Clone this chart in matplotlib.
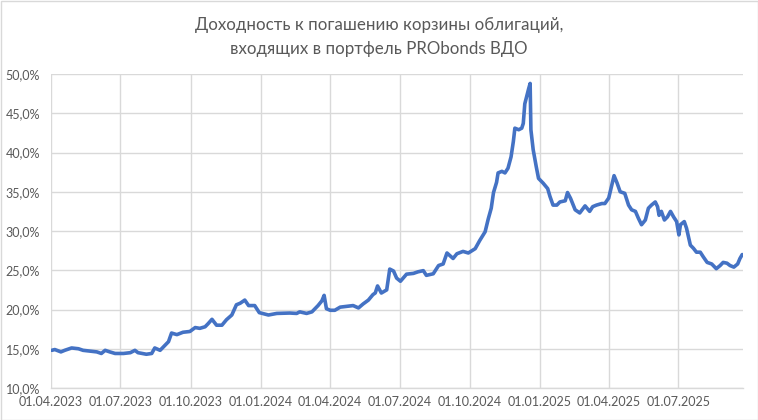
import matplotlib
matplotlib.use("Agg")
import matplotlib.pyplot as plt
import matplotlib.dates as mdates
from matplotlib.ticker import FuncFormatter, MultipleLocator
from matplotlib.patches import Rectangle
import pandas as pd

title = "Доходность к погашению корзины облигаций,\nвходящих в портфель PRObonds ВДО"

dates = [
    "2023-04-02", "2023-04-06", "2023-04-14", "2023-04-19", "2023-04-28", "2023-05-07",
    "2023-05-13", "2023-05-22", "2023-05-31", "2023-06-06", "2023-06-11", "2023-06-17",
    "2023-06-24", "2023-07-05", "2023-07-14", "2023-07-20", "2023-07-24", "2023-08-04",
    "2023-08-11", "2023-08-15", "2023-08-22", "2023-08-28", "2023-09-02", "2023-09-06",
    "2023-09-13", "2023-09-21", "2023-09-30", "2023-10-07", "2023-10-13", "2023-10-20",
    "2023-10-24", "2023-10-29", "2023-11-04", "2023-11-11", "2023-11-17", "2023-11-24",
    "2023-11-30", "2023-12-05", "2023-12-11", "2023-12-16", "2023-12-24", "2023-12-30",
    "2024-01-11", "2024-01-22", "2024-02-08", "2024-02-17", "2024-02-21", "2024-03-01",
    "2024-03-08", "2024-03-16", "2024-03-21", "2024-03-24", "2024-03-27", "2024-04-01",
    "2024-04-07", "2024-04-14", "2024-04-23", "2024-05-01", "2024-05-08", "2024-05-14",
    "2024-05-21", "2024-05-27", "2024-05-30", "2024-06-02", "2024-06-07", "2024-06-14",
    "2024-06-18", "2024-06-23", "2024-06-27", "2024-07-02", "2024-07-10", "2024-07-19",
    "2024-07-25", "2024-08-01", "2024-08-05", "2024-08-14", "2024-08-21", "2024-08-27",
    "2024-09-01", "2024-09-09", "2024-09-14", "2024-09-22", "2024-09-29", "2024-10-08",
    "2024-10-14", "2024-10-21", "2024-10-25", "2024-10-29", "2024-11-01", "2024-11-05",
    "2024-11-07", "2024-11-12", "2024-11-16", "2024-11-20", "2024-11-24", "2024-11-27",
    "2024-11-29", "2024-12-04", "2024-12-08", "2024-12-10", "2024-12-12", "2024-12-17",
    "2024-12-19", "2024-12-20", "2024-12-23", "2024-12-27", "2024-12-30", "2025-01-05",
    "2025-01-11", "2025-01-14", "2025-01-18", "2025-01-23", "2025-01-27", "2025-02-03",
    "2025-02-06", "2025-02-10", "2025-02-16", "2025-02-22", "2025-03-01", "2025-03-07",
    "2025-03-11", "2025-03-16", "2025-03-23", "2025-03-27", "2025-04-01", "2025-04-05",
    "2025-04-08", "2025-04-12", "2025-04-16", "2025-04-22", "2025-04-27", "2025-05-01",
    "2025-05-06", "2025-05-10", "2025-05-14", "2025-05-19", "2025-05-23", "2025-05-27",
    "2025-06-01", "2025-06-04", "2025-06-06", "2025-06-09", "2025-06-13", "2025-06-17",
    "2025-06-21", "2025-06-25", "2025-06-29", "2025-07-02", "2025-07-04", "2025-07-09",
    "2025-07-12", "2025-07-17", "2025-07-21", "2025-07-25", "2025-07-30", "2025-08-03",
    "2025-08-08", "2025-08-14", "2025-08-20", "2025-08-25", "2025-08-29", "2025-09-03",
    "2025-09-07", "2025-09-12", "2025-09-17", "2025-09-20", "2025-09-23",
]

ytm = [
    14.8, 14.9, 14.6, 14.8, 15.1, 15.0,
    14.8, 14.7, 14.6, 14.4, 14.8, 14.6,
    14.4, 14.4, 14.5, 14.8, 14.5, 14.3,
    14.4, 15.1, 14.8, 15.4, 15.9, 17.0,
    16.8, 17.1, 17.2, 17.7, 17.6, 17.8,
    18.2, 18.75, 18.0, 18.0, 18.7, 19.3,
    20.6, 20.8, 21.2, 20.5, 20.5, 19.6,
    19.3, 19.5, 19.55, 19.5, 19.7, 19.5,
    19.7, 20.5, 21.1, 21.8, 20.1, 19.9,
    19.9, 20.3, 20.4, 20.5, 20.2, 20.7,
    21.2, 21.9, 22.1, 23.0, 22.1, 22.5,
    25.15, 24.9, 24.0, 23.6, 24.5, 24.6,
    24.8, 24.95, 24.35, 24.55, 25.6, 25.8,
    27.2, 26.5, 27.1, 27.4, 27.2, 27.75,
    28.8, 29.9, 31.5, 32.9, 34.9, 36.2,
    37.4, 37.6, 37.4, 38.0, 39.45, 41.4,
    43.1, 42.9, 43.1, 43.7, 46.2, 48.1,
    48.8, 42.9, 40.35, 38.2, 36.7, 36.1,
    35.4, 34.4, 33.3, 33.3, 33.7, 33.85,
    34.9, 34.15, 32.7, 32.3, 33.2, 32.5,
    33.1, 33.3, 33.5, 33.5, 34.2, 35.8,
    37.05, 36.1, 35.0, 34.8, 33.3, 32.7,
    32.5, 31.6, 30.8, 31.4, 32.9, 33.3,
    33.7, 33.1, 32.0, 32.5, 31.4, 31.8,
    32.5, 31.8, 31.2, 29.5, 30.8, 31.2,
    30.35, 28.2, 27.8, 27.3, 27.3, 26.7,
    26.0, 25.8, 25.2, 25.6, 26.0, 25.9,
    25.6, 25.4, 25.8, 26.5, 27.0,
]

x_ticks = ["2023-04-01", "2023-07-01", "2023-10-01", "2024-01-01", "2024-04-01",
           "2024-07-01", "2024-10-01", "2025-01-01", "2025-04-01", "2025-07-01"]

x = pd.to_datetime(dates)
tick_dates = pd.to_datetime(x_ticks)

text_color = "#595959"
grid_color = "#d9d9d9"
line_color = "#4472C4"

plt.rcParams["font.family"] = ["Lato", "DejaVu Sans"]

fig = plt.figure(figsize=(7.58, 4.2), dpi=100)
ax = fig.add_axes([51 / 758, 1 - 388 / 420, (743 - 51) / 758, (388 - 74) / 420])

ax.plot(x, ytm, color=line_color, lw=2.6, solid_joinstyle="round", solid_capstyle="round", zorder=3)

ax.set_ylim(10, 50)
ax.set_xlim(pd.Timestamp("2023-04-01"), pd.Timestamp("2025-09-24"))
ax.yaxis.set_major_locator(MultipleLocator(5))
ax.yaxis.set_major_formatter(FuncFormatter(lambda v, p: f"{v:.1f}%".replace(".", ",")))
ax.set_xticks(tick_dates)
ax.xaxis.set_major_formatter(mdates.DateFormatter("%d.%m.%Y"))

ax.grid(True, color=grid_color, lw=1.0, zorder=0)
ax.set_axisbelow(True)
for s in ["top", "right", "left"]:
    ax.spines[s].set_visible(False)
ax.spines["bottom"].set_color(grid_color)
ax.spines["bottom"].set_linewidth(1.0)
ax.tick_params(axis="both", length=0, colors=text_color, labelsize=9)
ax.tick_params(axis="y", pad=8)
ax.tick_params(axis="x", pad=6)

fig.text(0.5, 1 - 37 / 420, title, ha="center", va="center", fontsize=12.2,
         color=text_color, linespacing=1.6)

fig.patches.append(Rectangle((0.5 / 758, 0.5 / 420), 1 - 1 / 758, 1 - 1 / 420,
                             transform=fig.transFigure, fill=False,
                             edgecolor=grid_color, lw=1.0))

fig.savefig("out.png", dpi=100, facecolor="white")
